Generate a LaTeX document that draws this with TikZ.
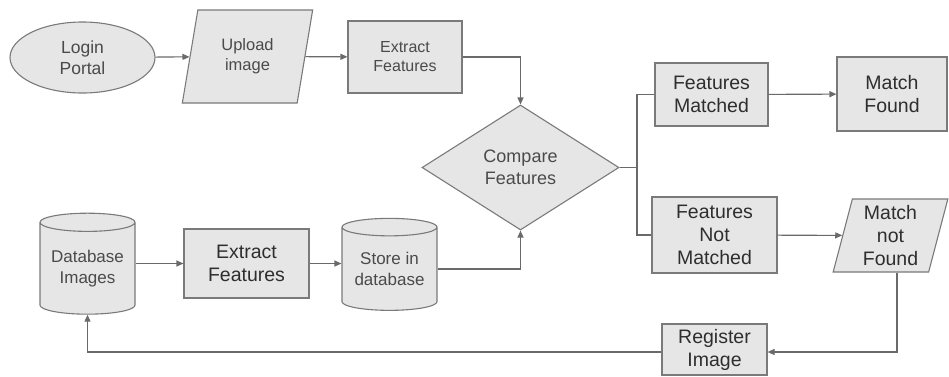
\documentclass[tikz,border=0pt]{standalone}
\usepackage{fontspec}
\setmainfont{Liberation Sans}
\usetikzlibrary{shapes.geometric,arrows.meta}
\definecolor{boxfill}{HTML}{E6E6E6}
\definecolor{boxline}{HTML}{7A7A7A}
\definecolor{wire}{HTML}{6A6A6A}
\definecolor{inklite}{HTML}{4A4A4A}
\definecolor{inkdark}{HTML}{2E2E2E}
\begin{document}
\begin{tikzpicture}[x=1pt,y=-1pt,
    >={Triangle[length=7pt,width=6pt]},
    base/.style={draw=boxline, fill=boxfill, line width=1.1pt, align=center, inner sep=0pt},
    box/.style={base, rectangle},
    oval/.style={base, ellipse},
    slant/.style={base, trapezium, trapezium left angle=77, trapezium right angle=103, trapezium stretches=true},
    decide/.style={base, diamond},
    drum/.style={base, cylinder, shape border rotate=90, aspect=0.25},
    dark/.style={text=inkdark, font=\fontsize{19.5}{23}\selectfont},
    wire/.style={draw=wire, line width=1.1pt}]
\useasboundingbox (0,0) rectangle (949,376);

\node[oval, minimum width=145pt, minimum height=71pt, text=inklite, font=\fontsize{17.5}{21}\selectfont] (login) at (82.5,57.5) {Login\\Portal};
\node[slant, minimum width=131pt, minimum height=93pt, text=inklite, font=\fontsize{16.5}{20}\selectfont] (upload) at (247.5,56.5) {Upload\\image};
\node[box, minimum width=114pt, minimum height=72pt, text=inklite, font=\fontsize{16}{19}\selectfont] (extractA) at (405,57) {Extract\\Features};
\node[decide, minimum width=197pt, minimum height=125pt, text=inklite, font=\fontsize{18}{22}\selectfont] (compare) at (520.5,167.5) {Compare\\Features};

\node[drum, minimum width=95pt, minimum height=101pt, text=inklite, font=\fontsize{17}{21}\selectfont] (dbimg) at (87.5,268.5) {Database\\Images};
\node[box, dark, minimum width=125pt, minimum height=69pt] (extractB) at (246.5,263.5) {Extract\\Features};
\node[drum, minimum width=95pt, minimum height=92pt, text=inklite, font=\fontsize{17}{21}\selectfont] (store) at (389.5,269) {Store in\\database};

\node[box, dark, minimum width=113pt, minimum height=63pt] (matched) at (711.5,94.5) {Features\\Matched};
\node[box, dark, minimum width=110pt, minimum height=74pt] (found) at (892,94) {Match\\Found};
\node[box, dark, minimum width=125pt, minimum height=76pt] (notmatched) at (714.5,235) {Features\\Not\\Matched};
\node[slant, dark, minimum width=115pt, minimum height=73pt] (notfound) at (890.5,235.5) {Match\\not\\Found};
\node[box, dark, minimum width=105pt, minimum height=51pt] (register) at (714.5,349.5) {Register\\Image};

\coordinate (split) at (637,167.5);
\coordinate (drop) at (897,352);

\draw[wire,->] (login) -- (upload);
\draw[wire,->] (upload) -- (extractA);
\draw[wire,->] (extractA.east) -| (compare.north);
\draw[wire] (compare.east) -- (split);
\draw[wire] (matched.west) -| (split) |- (notmatched.west);
\draw[wire,->] (matched) -- (found);
\draw[wire,->] (notmatched) -- (notfound);
\draw[wire,->] (drop |- notfound.south) -- (drop) -- (register.east |- drop);
\draw[wire,->] (register.west |- drop) -| (dbimg.south);
\draw[wire,->] (dbimg.east |- extractB) -- (extractB);
\draw[wire,->] (extractB) -- (store.west |- extractB);
\draw[wire,->] (store.east) -| (compare.south);
\end{tikzpicture}
\end{document}
